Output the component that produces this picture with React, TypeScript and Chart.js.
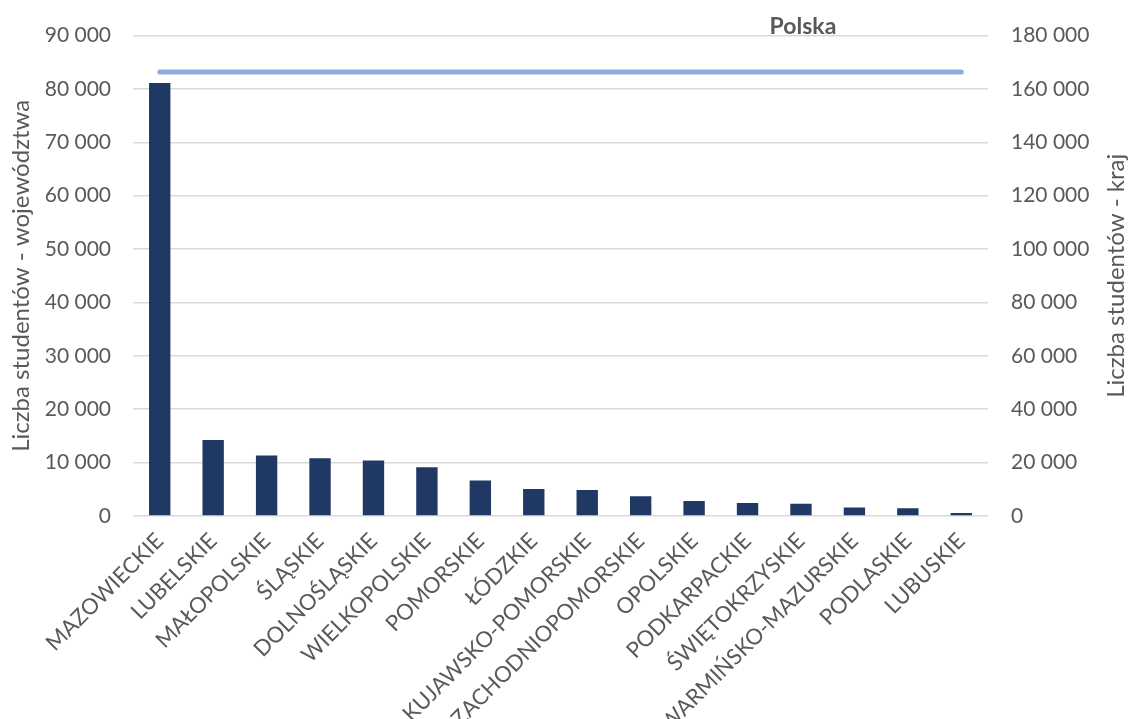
import React, { useEffect, useRef } from "react";
import { Chart, registerables } from "chart.js";

Chart.register(...registerables);

const categories = [
  "MAZOWIECKIE",
  "LUBELSKIE",
  "MAŁOPOLSKIE",
  "ŚLĄSKIE",
  "DOLNOŚLĄSKIE",
  "WIELKOPOLSKIE",
  "POMORSKIE",
  "ŁÓDZKIE",
  "KUJAWSKO-POMORSKIE",
  "ZACHODNIOPOMORSKIE",
  "OPOLSKIE",
  "PODKARPACKIE",
  "ŚWIĘTOKRZYSKIE",
  "WARMIŃSKO-MAZURSKIE",
  "PODLASKIE",
  "LUBUSKIE",
];

const voivodeshipValues = [
  81100, 14250, 11320, 10820, 10390, 9140, 6660, 5040, 4850, 3680, 2800, 2430,
  2310, 1570, 1440, 560,
];

const polandValues = categories.map(() => 166400);

const polandLabel = "Polska";
const leftAxisTitle = "Liczba studentów - województwa";
const rightAxisTitle = "Liczba studentów - kraj";
const leftAxisMax = 90000;
const leftAxisStep = 10000;
const rightAxisMax = 180000;
const rightAxisStep = 20000;
const polandLabelIndex = 12;

const FONT = "Lato, 'Liberation Sans', sans-serif";
const TEXT = "#595959";

const fmt = (v: number | string) =>
  String(v).replace(/\B(?=(\d{3})+(?!\d))/g, " ");

export default function App() {
  const ref = useRef<HTMLCanvasElement | null>(null);

  useEffect(() => {
    document.body.style.margin = "0";
    if (!ref.current) return;

    const textPlugin = {
      id: "extraText",
      afterDraw(chart: any) {
        const ctx = chart.ctx;
        const area = chart.chartArea;
        const midY = (area.top + area.bottom) / 2;
        ctx.save();
        // series label
        const x = chart.scales.x.getPixelForValue(polandLabelIndex);
        ctx.font = `bold 23px ${FONT}`;
        ctx.fillStyle = TEXT;
        ctx.textAlign = "center";
        ctx.textBaseline = "middle";
        ctx.fillText(polandLabel, x + 2, 27);
        // axis titles, both reading bottom-to-top
        ctx.font = `24px ${FONT}`;
        ctx.save();
        ctx.translate(21, midY);
        ctx.rotate(-Math.PI / 2);
        ctx.fillText(leftAxisTitle, 0, 0);
        ctx.restore();
        ctx.save();
        ctx.translate(1116, midY);
        ctx.rotate(-Math.PI / 2);
        ctx.fillText(rightAxisTitle, 0, 0);
        ctx.restore();
        ctx.restore();
      },
    };

    const chart = new Chart(ref.current, {
      type: "bar",
      data: {
        labels: categories,
        datasets: [
          {
            type: "line",
            label: polandLabel,
            data: polandValues,
            yAxisID: "y1",
            borderColor: "#8FAADC",
            backgroundColor: "#8FAADC",
            borderWidth: 5,
            borderCapStyle: "round",
            pointRadius: 0,
            order: 0,
          } as any,
          {
            type: "bar",
            label: "Województwa",
            data: voivodeshipValues,
            yAxisID: "y",
            backgroundColor: "#203864",
            borderWidth: 0,
            categoryPercentage: 1,
            barPercentage: 0.4,
            order: 1,
          },
        ],
      },
      options: {
        animation: false,
        responsive: true,
        maintainAspectRatio: false,
        layout: { padding: { top: 32, bottom: 0, left: 0, right: 0 } },
        plugins: {
          legend: { display: false },
          tooltip: { enabled: false },
        },
        scales: {
          x: {
            grid: { display: false },
            border: { display: false },
            ticks: {
              color: TEXT,
              font: { family: FONT, size: 22 },
              maxRotation: 45,
              minRotation: 45,
              autoSkip: false,
              padding: 4,
            },
            afterFit(scale: any) {
              scale.height = 203;
            },
          },
          y: {
            position: "left",
            min: 0,
            max: leftAxisMax,
            ticks: {
              stepSize: leftAxisStep,
              color: TEXT,
              font: { family: FONT, size: 21 },
              padding: 22,
              callback: (v: any) => fmt(v),
            },
            grid: { color: "#D9D9D9", lineWidth: 1.5, drawTicks: false },
            border: { display: false },
            afterFit(scale: any) {
              scale.width = 133;
            },
          },
          y1: {
            position: "right",
            min: 0,
            max: rightAxisMax,
            ticks: {
              stepSize: rightAxisStep,
              color: TEXT,
              font: { family: FONT, size: 21 },
              padding: 23,
              callback: (v: any) => fmt(v),
            },
            grid: { display: false, drawTicks: false },
            border: { display: false },
            afterFit(scale: any) {
              scale.width = 140;
            },
          },
        },
      },
      plugins: [textPlugin],
    });

    return () => chart.destroy();
  }, []);

  return (
    <div style={{ position: "relative", width: 1128, height: 719 }}>
      <canvas ref={ref} />
    </div>
  );
}
